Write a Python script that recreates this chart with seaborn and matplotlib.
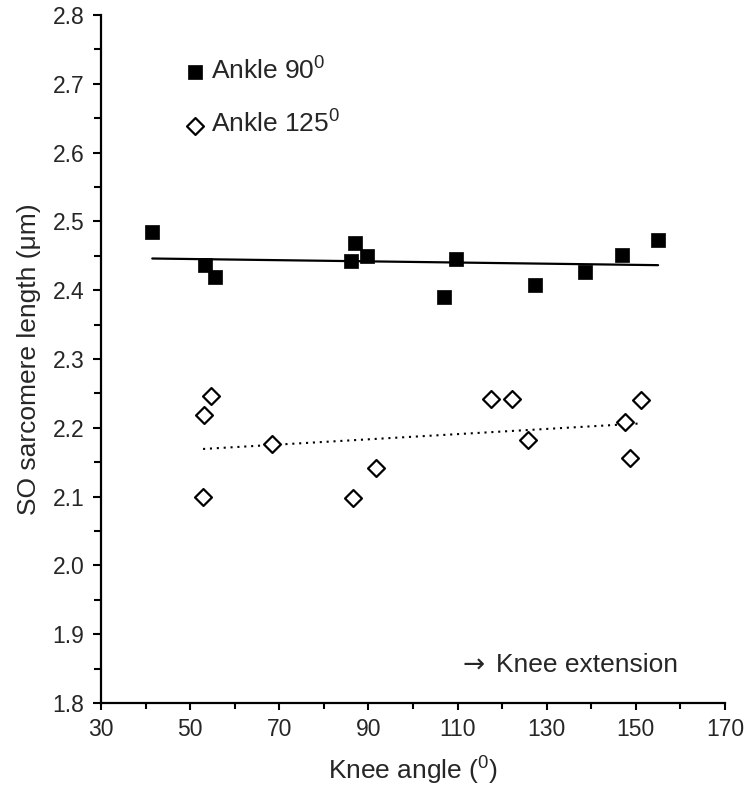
import numpy as np
import pandas as pd
import seaborn as sns
import matplotlib.pyplot as plt
from matplotlib.ticker import MultipleLocator

# values
knee_90 = [41.5, 53.3, 55.6, 86.1, 87.1, 89.6, 107.0, 109.6, 127.4, 138.7, 146.8, 155.0]
len_90 = [2.484, 2.437, 2.419, 2.442, 2.468, 2.449, 2.390, 2.445, 2.408, 2.427, 2.451, 2.473]

knee_125 = [52.9, 53.0, 54.7, 68.3, 86.6, 91.8, 117.5, 122.3, 125.9, 147.6, 148.6, 151.1]
len_125 = [2.100, 2.218, 2.246, 2.177, 2.098, 2.141, 2.242, 2.242, 2.182, 2.209, 2.156, 2.241]

x_ticks = [30, 50, 70, 90, 110, 130, 150, 170]
y_ticks = [1.8, 1.9, 2.0, 2.1, 2.2, 2.3, 2.4, 2.5, 2.6, 2.7, 2.8]

df90 = pd.DataFrame({"knee": knee_90, "length": len_90})
df125 = pd.DataFrame({"knee": knee_125, "length": len_125})

sns.set_style("white")
plt.rcParams["font.family"] = ["Liberation Sans", "DejaVu Sans"]
plt.rcParams["mathtext.fontset"] = "custom"
plt.rcParams["mathtext.rm"] = "Liberation Sans"
plt.rcParams["mathtext.it"] = "Liberation Sans:italic"
fs_tick = 16.5
fs = 19

fig = plt.figure(figsize=(7.46, 7.89), dpi=100)
ax = fig.add_axes([0.1354, 0.109, 0.8364, 0.872])

# fitted lines
sns.regplot(data=df90, x="knee", y="length", scatter=False, ci=None, ax=ax,
            line_kws=dict(color="black", lw=1.6))
sns.regplot(data=df125, x="knee", y="length", scatter=False, ci=None, ax=ax,
            line_kws=dict(color="black", lw=1.5, linestyle=(0, (1, 2.3))))

# points
sns.scatterplot(data=df90, x="knee", y="length", marker="s", s=112, color="black",
                edgecolor="black", linewidth=0.5, ax=ax, label=r"Ankle 90$^0$", zorder=3)
sns.scatterplot(data=df125, x="knee", y="length", marker="D", s=74, color="white",
                edgecolor="black", linewidth=1.6, ax=ax, label=r"Ankle 125$^0$", zorder=3)

ax.set_xlim(30, 170)
ax.set_ylim(1.8, 2.8)
ax.set_xticks(x_ticks)
ax.set_yticks(y_ticks)
ax.set_yticklabels([f"{v:.1f}" for v in y_ticks])
ax.xaxis.set_minor_locator(MultipleLocator(10))
ax.yaxis.set_minor_locator(MultipleLocator(0.05))
ax.tick_params(axis="both", which="both", direction="out", width=1.5, color="black",
               labelsize=fs_tick, pad=6)
ax.tick_params(axis="x", which="major", length=5, bottom=True)
ax.tick_params(axis="x", which="minor", length=4, bottom=True)
ax.tick_params(axis="y", which="major", length=6, left=True)
ax.tick_params(axis="y", which="minor", length=5, left=True)

sns.despine(ax=ax)
for side in ["left", "bottom"]:
    ax.spines[side].set_linewidth(1.6)
    ax.spines[side].set_color("black")

ax.set_xlabel(r"Knee angle ($^0$)", fontsize=fs, labelpad=10)
ax.set_ylabel("SO sarcomere length (μm)", fontsize=fs, labelpad=8)

ax.text(111.2, 1.855, "→", fontsize=fs, va="center", ha="left", family="DejaVu Sans")
ax.text(118.6, 1.855, "Knee extension", fontsize=fs, va="center", ha="left")

ax.legend(loc="upper left", bbox_to_anchor=(0.130, 0.939), frameon=False, fontsize=fs,
          handlelength=1.0, handletextpad=0.1, borderpad=0, borderaxespad=0,
          labelspacing=1.0)

fig.savefig("out.png", dpi=100)
